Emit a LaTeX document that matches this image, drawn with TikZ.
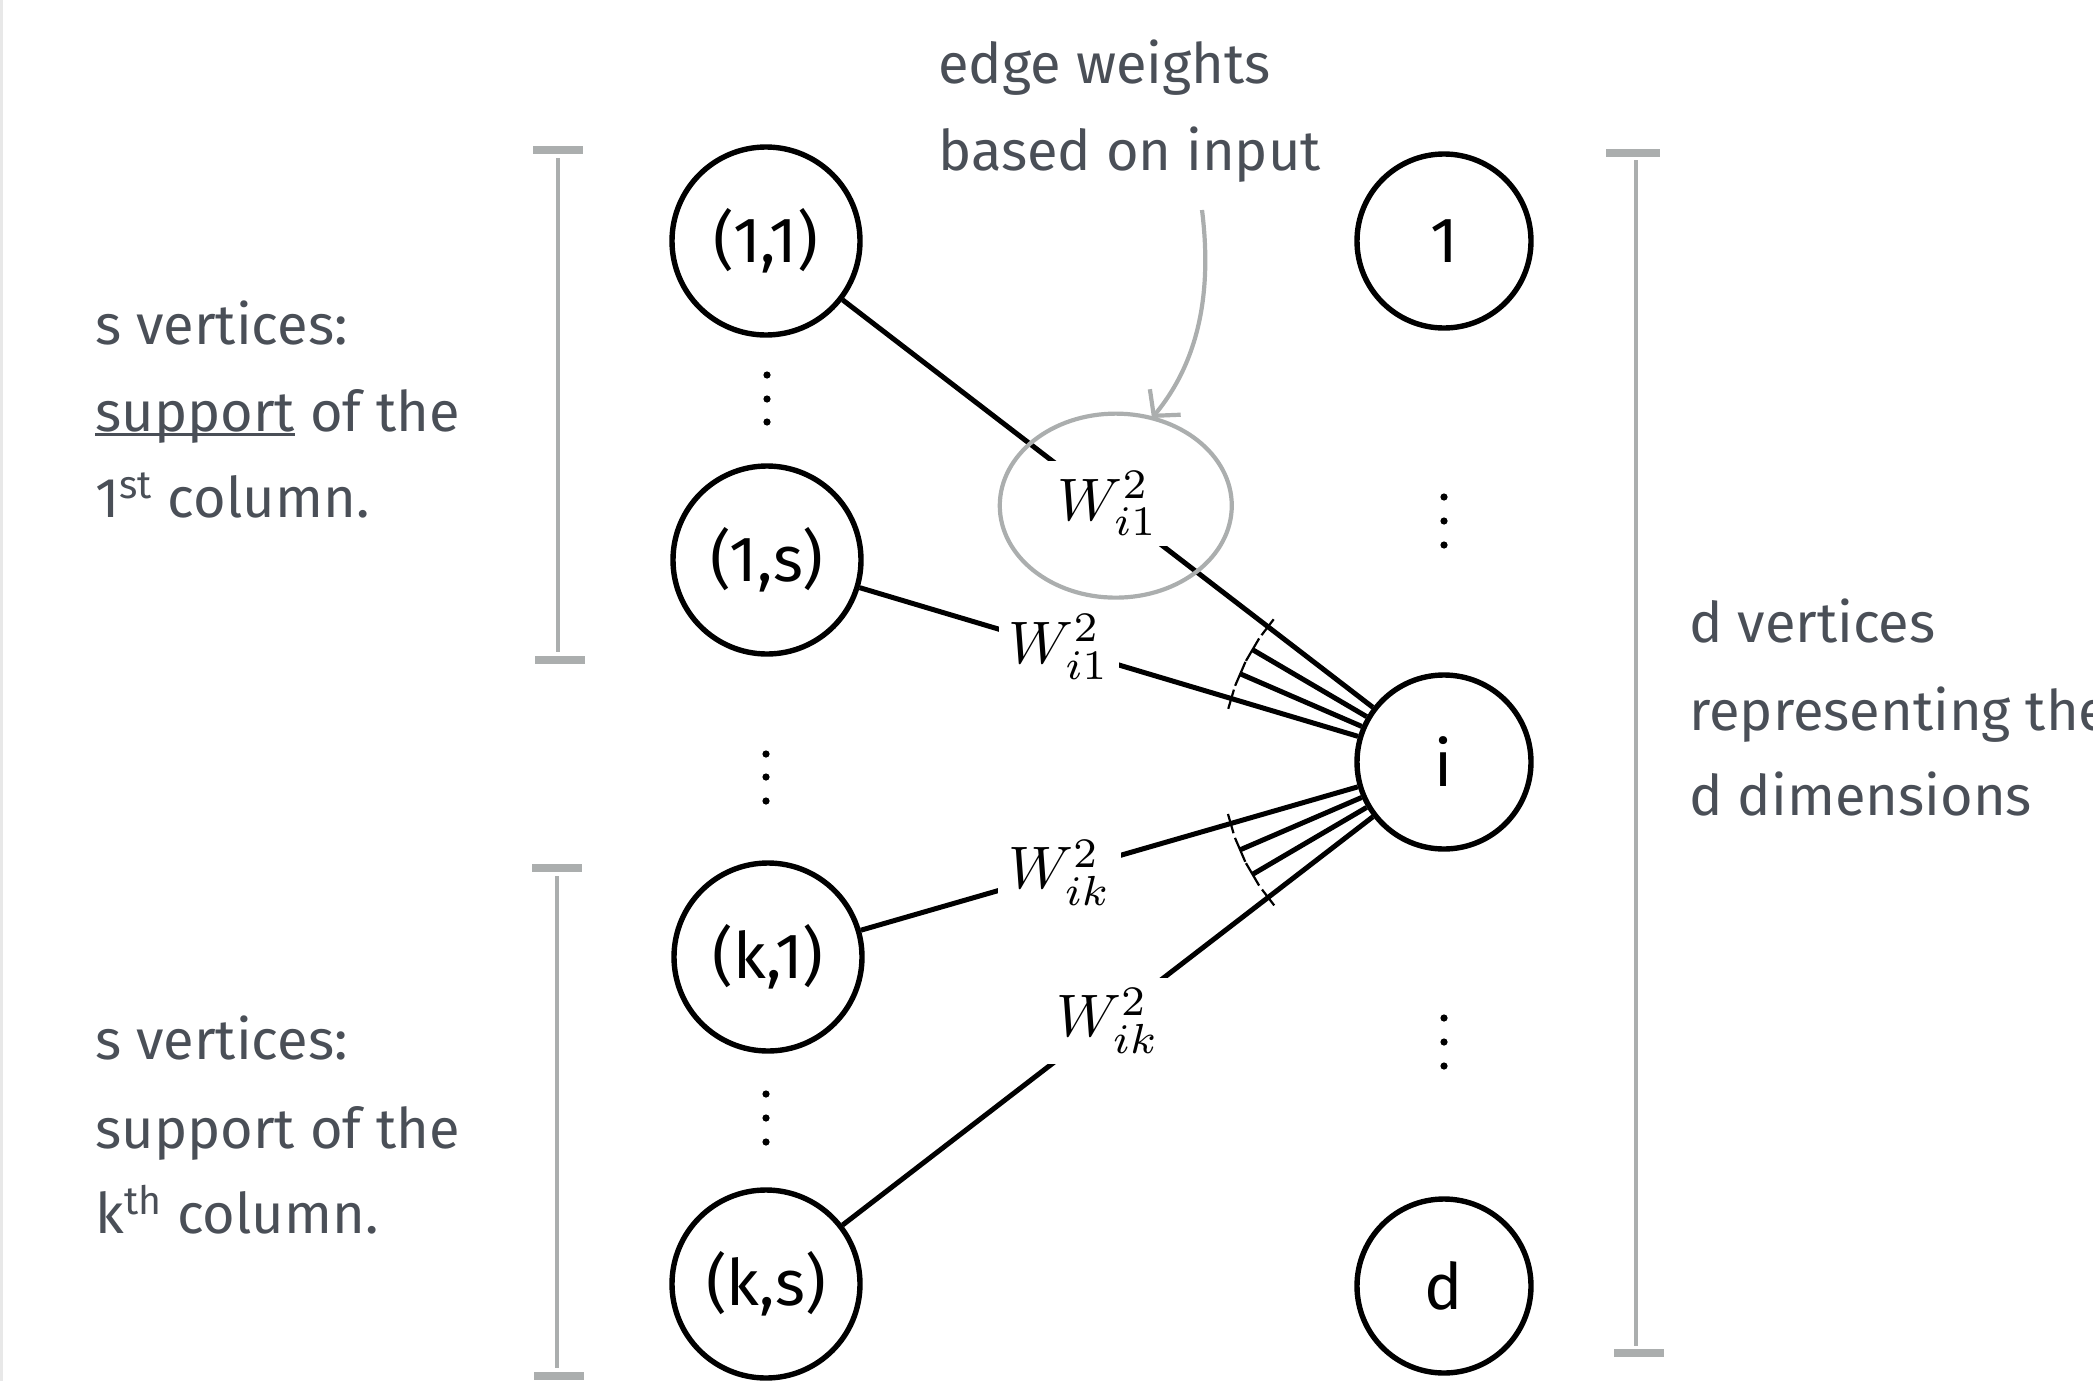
\documentclass[tikz,border=0pt]{standalone}
\usepackage{graphicx}
\usepackage[no-math]{fontspec}
\newfontfamily\hand{Fira Sans}
\usetikzlibrary{arrows.meta,calc}
\definecolor{txt}{HTML}{4A4F57}
\definecolor{brk}{HTML}{ABAEAE}
\newcommand\hul[1]{\setbox0\hbox{#1}\rlap{\vrule height -1pt depth 2.4pt width \wd0}\box0\relax}
\newcommand\wm[1]{\scalebox{3}{$#1$}}
\begin{document}
\begin{tikzpicture}[x=0.5pt,y=-0.5pt,
  vtx/.style={circle,draw,line width=2.7pt,inner sep=0pt,font=\hand\fontsize{32}{38}\selectfont},
  lv/.style={vtx,minimum size=94pt},
  rv/.style={vtx,minimum size=87pt},
  edge/.style={line width=2.5pt},
  wlab/.style={fill=white,inner sep=5pt},
  note/.style={anchor=base west,text=txt,inner sep=0pt,font=\hand\fontsize{28}{34}\selectfont},
  brkline/.style={draw=brk,line width=2.3pt},
  brkcap/.style={draw=brk,line width=4pt},
  tick/.style={line width=1.1pt},
  vdot/.style={fill=black}]
\useasboundingbox (0,0) rectangle (2093,1381);
\fill[gray!18] (0,0) rectangle (3,1381);

% vertices
\node[lv] (n11) at (766,241) {(1,1)};
\node[lv] (n1s) at (767,560) {(1,s)};
\node[lv] (nk1) at (768,957) {(k,1)};
\node[lv] (nks) at (766,1284) {(k,s)};
\node[rv] (r1) at (1444,241) {1};
\node[rv] (ri) at (1444,762) {i};
\node[rv] (rd) at (1444,1286) {d};

% dots
\foreach \x/\y in {767/375,767/399,767/422,766/754,766/777,766/801,766/1094,766/1118,766/1142,1444/497,1444/521,1444/545,1444/1018,1444/1042,1444/1066}
  \fill[vdot] (\x,\y) circle[radius=1.8pt];

% edges
\draw[edge] (n11) -- node[wlab,pos=0.5] (wA) {\wm{W^2_{i1}}} (ri);
\draw[edge] (n1s) -- node[wlab,pos=0.4] (wB) {\wm{W^2_{i1}}} (ri);
\draw[edge] (nk1) -- node[wlab,pos=0.4] (wC) {\wm{W^2_{ik}}} (ri);
\draw[edge] (nks) -- node[wlab,pos=0.5] (wD) {\wm{W^2_{ik}}} (ri);

% fan of further edges
\foreach \a/\n in {149.6/fa,156.6/fb,203.3/fc,210.4/fd} {
  \coordinate (\n) at ($(ri.center)+(\a:111pt)$);
  \draw[edge] (ri) -- (\n);
  \draw[tick] ($(\n)+({\a+90}:6.5pt)$) -- ($(\n)+({\a-90}:6.5pt)$);
}
\foreach \a in {142.62,163.57,196.11,217.6}
  \draw[tick] ($(ri.center)+(\a:111pt)+({\a+90}:5pt)$) -- ($(ri.center)+(\a:111pt)+({\a-90}:5pt)$);

% highlight ring and arrow
\draw[draw=brk,line width=2.1pt] ($(wA.center)+(4pt,-1pt)$) ellipse [x radius=58pt, y radius=46pt];
\coordinate (arS) at (1202,210);
\coordinate (arE) at (1152,418);
\draw[draw=brk,line width=2.1pt,-{Straight Barb[length=9pt,width=20pt]}] (arS) .. controls (1212,290) and (1200,360) .. (arE);

% brackets
\draw[brkline] (558,158) -- (558,652);
\draw[brkcap] (533,150) -- (583,150);
\draw[brkcap] (535,660) -- (585,660);
\draw[brkline] (557,876) -- (557,1368);
\draw[brkcap] (532,868) -- (582,868);
\draw[brkcap] (534,1376) -- (584,1376);
\draw[brkline] (1636,160) -- (1636,1346);
\draw[brkcap] (1606,153) -- (1660,153);
\draw[brkcap] (1614,1353) -- (1664,1353);

% notes
\node[note] (t1) at (95,344) {s vertices:};
\node[note] (t2) at (95,431) {\hul{support} of the};
\node[note] (t3) at (95,517) {1\textsuperscript{st} column.};
\node[note] (b1) at (95,1059) {s vertices:};
\node[note] (b2) at (95,1148) {support of the};
\node[note] (b3) at (95,1233) {k\textsuperscript{th} column.};
\node[note] (d1) at (1689,642) {d vertices};
\node[note] (d2) at (1689,730) {representing the};
\node[note] (d3) at (1689,815) {d dimensions};
\node[note] (e1) at (938,83) {edge weights};
\node[note] (e2) at (938,170) {based on input};
\end{tikzpicture}
\end{document}
